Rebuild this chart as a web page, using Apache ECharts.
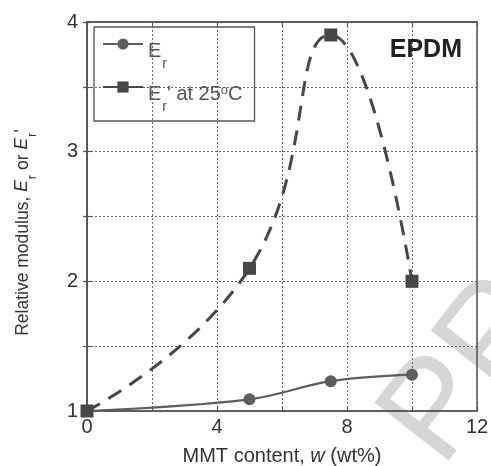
<!DOCTYPE html>
<html><head><meta charset="utf-8">
<script src="https://cdn.jsdelivr.net/npm/echarts@6/dist/echarts.min.js"></script>
<style>html,body{margin:0;padding:0;background:#fff}#c{width:491px;height:466px}</style>
</head><body><div id="c"></div>
<script>
// Data
const mmtContent = [0, 5, 7.5, 10];            // w (wt%)
const erValues = [1.0, 1.09, 1.23, 1.28];      // E_r
const erPrimeValues = [1.0, 2.1, 3.9, 2.0];    // E_r' at 25 C
const xTickLabels = [0, 4, 8, 12];
const yTickLabels = [1, 2, 3, 4];
const seriesNames = ['Er', 'ErPrime'];

const FONT = '"Liberation Sans", Arial, Helvetica, sans-serif';
const TXT = '#333';

const chart = echarts.init(document.getElementById('c'), null, {renderer: 'canvas'});
const subRich = {
  sub: {fontSize: 14, fontFamily: FONT, color: '#555', padding: [24, 0, 0, 1], verticalAlign: 'top', lineHeight: 14},
  sup: {fontSize: 13, fontFamily: FONT, color: '#555', padding: [8, 0, 0, 0], verticalAlign: 'top', lineHeight: 13},
  n: {fontSize: 20, fontFamily: FONT, color: '#555', verticalAlign: 'top', lineHeight: 22, padding: [8, 0, 0, 0]}
};
const yNameRich = {
  n: {fontSize: 17.5, fontFamily: FONT, color: TXT, verticalAlign: 'top', lineHeight: 20},
  it: {fontSize: 17.5, fontFamily: FONT, color: TXT, fontStyle: 'italic', verticalAlign: 'top', lineHeight: 20},
  sub: {fontSize: 13, fontFamily: FONT, color: TXT, verticalAlign: 'top', lineHeight: 13, padding: [13, 0, 0, 1]}
};
const gridLine = {show: true, lineStyle: {color: '#666', width: 1, type: [2, 2]}};
const frameLine = {show: true, lineStyle: {color: '#555', width: 1.5}};
const innerTick = {show: true, inside: true, length: 4, lineStyle: {color: '#555', width: 1.2}};

const option = {
  animation: false,
  backgroundColor: '#fff',
  title: {
    text: 'EPDM', right: 24, top: 33,
    textStyle: {fontSize: 25, fontWeight: 'bold', fontFamily: FONT, color: '#222'}
  },
  legend: {
    left: 94, top: 27, orient: 'vertical',
    data: seriesNames,
    itemWidth: 40, itemHeight: 14, itemGap: 5,
    padding: [6, 12, 7, 8],
    borderColor: '#555', borderWidth: 1.3,
    formatter: function (name) {
      if (name === 'Er') return '{n|E}{sub|r}';
      return "{n|E}{sub|r}{n|' at 25}{sup|o}{n|C}";
    },
    textStyle: {rich: subRich}
  },
  grid: {left: 87, right: 14, top: 22, bottom: 55, show: true, borderColor: '#555', borderWidth: 1.5,
    containLabel: false, outerBoundsMode: 'none'},
  xAxis: [{
    type: 'value', min: 0, max: 12, interval: 2,
    name: 'MMT content, {it|w} (wt%)', nameLocation: 'middle', nameGap: 35,
    nameTextStyle: {fontSize: 20, fontFamily: FONT, color: TXT,
      rich: {it: {fontSize: 20, fontFamily: FONT, color: TXT, fontStyle: 'italic'}}},
    axisLine: frameLine,
    axisTick: innerTick,
    axisLabel: {
      fontSize: 20, fontFamily: FONT, color: TXT, margin: 6,
      formatter: v => (xTickLabels.indexOf(v) >= 0 ? String(v) : '')
    },
    splitLine: gridLine
  }, {
    type: 'value', position: 'top', min: 0, max: 12, interval: 2,
    axisLine: frameLine, axisTick: innerTick, axisLabel: {show: false}, splitLine: {show: false}
  }],
  yAxis: [{
    type: 'value', min: 1, max: 4, interval: 0.5,
    name: "Relative modulus, {it|E}{sub|r} or {it|E}{sub|r}{n|'}", nameLocation: 'middle', nameGap: 54, nameRotate: 90,
    nameTextStyle: {fontSize: 17.5, fontFamily: FONT, color: TXT, rich: yNameRich, padding: [0, 32, 0, 0], verticalAlign: 'bottom'},
    axisLine: frameLine,
    axisTick: innerTick,
    axisLabel: {
      fontSize: 20, fontFamily: FONT, color: TXT, margin: 9,
      formatter: v => (yTickLabels.indexOf(v) >= 0 ? String(v) : '')
    },
    splitLine: gridLine
  }, {
    type: 'value', position: 'right', min: 1, max: 4, interval: 0.5,
    axisLine: frameLine, axisTick: innerTick, axisLabel: {show: false}, splitLine: {show: false}
  }],
  series: [
    {
      name: 'Er', type: 'line', smooth: 0.35,
      data: mmtContent.map((x, i) => [x, erValues[i]]),
      symbol: 'circle', symbolSize: 12,
      itemStyle: {color: '#5e5e5e'},
      lineStyle: {color: '#5e5e5e', width: 2.2}
    },
    {
      name: 'ErPrime', type: 'line', smooth: 0.5,
      data: mmtContent.map((x, i) => [x, erPrimeValues[i]]),
      symbol: 'rect', symbolSize: 13,
      itemStyle: {color: '#474747'},
      lineStyle: {color: '#474747', width: 3, type: [15, 10]}
    }
  ],
  graphic: [{
    type: 'text', x: 412, y: 446, rotation: 52 * Math.PI / 180, z: -10, silent: true,
    style: {text: 'PROOF', fontSize: 137, fontFamily: FONT, fill: '#d6d6d6', textAlign: 'left', textVerticalAlign: 'middle', verticalAlign: 'middle'}
  }]
};
chart.setOption(option);
</script>
</body></html>
